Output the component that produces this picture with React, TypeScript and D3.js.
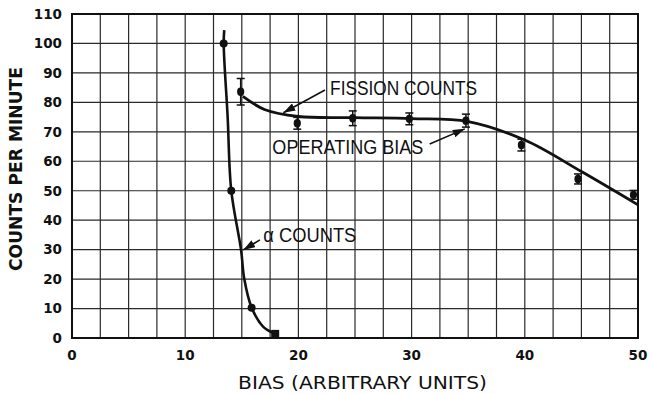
import React from "react";
import * as d3 from "d3";

// Fission chamber counting-rate curve versus bias
const W = 651;
const H = 394;

const xTicks = [0, 10, 20, 30, 40, 50];
const yTicks = [0, 10, 20, 30, 40, 50, 60, 70, 80, 90, 100, 110];

// Measured fission counts with error bars
const fissionBias = [14.9, 19.9, 24.8, 29.8, 34.8, 39.7, 44.7, 49.6];
const fissionCounts = [83.6, 72.9, 74.6, 74.4, 73.8, 65.5, 54.0, 48.6];
const fissionErr = [4.5, 2.0, 2.5, 2.0, 2.2, 2.0, 1.7, 1.5];

// Smooth fitted fission curve
const fissionCurveBias = [15.1, 17, 20, 25, 30, 35, 40, 45, 50];
const fissionCurveCounts = [82, 77.6, 75.2, 74.8, 74.5, 73.5, 67.2, 56.5, 45.2];

// Measured alpha counts
const alphaBias = [13.4, 14.07, 15.87, 17.95];
const alphaCounts = [100, 50, 10.3, 1.4];

// Smooth alpha curve
const alphaCurveBias = [13.45, 13.4, 13.75, 14.07, 14.93, 15.22, 15.87, 16.9, 17.95];
const alphaCurveCounts = [104.5, 100, 75, 50, 30, 20, 10.3, 3.8, 1.4];

// Callout labels: text anchor, arrow start, arrow tip (data units)
const labels = ["FISSION COUNTS", "OPERATING BIAS", "α COUNTS"];
const labelX = [22.8, 17.7, 16.9];
const labelY = [82.5, 62.5, 32.7];
const labelLen = [147, 151, 93];
const arrowFromX = [22.35, 31.6, 16.6];
const arrowFromY = [84.2, 65.9, 33.3];
const arrowToX = [18.67, 34.7, 15.13];
const arrowToY = [76.5, 71.0, 29.9];

export default function App() {
  const x = d3.scaleLinear().domain([0, 50]).range([72, 638]);
  const y = d3.scaleLinear().domain([0, 110]).range([338, 14]);

  const vGrid = d3.range(0, 50.01, 2.5);
  const hGrid = yTicks;

  const line = d3
    .line<[number, number]>()
    .x((d) => x(d[0]))
    .y((d) => y(d[1]))
    .curve(d3.curveCatmullRom.alpha(0.5));

  const fissionPath = line(
    fissionCurveBias.map((b, i) => [b, fissionCurveCounts[i]] as [number, number])
  );
  const alphaPath = line(
    alphaCurveBias.map((b, i) => [b, alphaCurveCounts[i]] as [number, number])
  );

  const ink = "#111";

  return (
    <svg
      width={W}
      height={H}
      style={{ position: "absolute", left: 0, top: 0, background: "#fff" }}
    >
      <defs>
        <marker
          id="arrowhead"
          viewBox="0 0 12 8"
          refX="12"
          refY="4"
          markerWidth="12"
          markerHeight="8"
          markerUnits="userSpaceOnUse"
          orient="auto"
        >
          <path d="M0,0 L12,4 L0,8 Z" fill={ink} />
        </marker>
      </defs>

      {/* grid */}
      <g stroke="#2a2a2a" strokeWidth={1.2}>
        {vGrid.map((v) => (
          <line key={"v" + v} x1={x(v)} x2={x(v)} y1={y(0)} y2={y(110)} />
        ))}
        {hGrid.map((v) => (
          <line key={"h" + v} x1={x(0)} x2={x(50)} y1={y(v)} y2={y(v)} />
        ))}
      </g>
      <rect
        x={x(0)}
        y={y(110)}
        width={x(50) - x(0)}
        height={y(0) - y(110)}
        fill="none"
        stroke={ink}
        strokeWidth={2}
      />

      {/* tick labels */}
      <g
        fontFamily="'DejaVu Sans', sans-serif"
        fontWeight="bold"
        fontSize={13.5}
        fill={ink}
      >
        {yTicks.map((t) => (
          <text key={"yt" + t} x={62} y={y(t)} dy="0.36em" textAnchor="end">
            {t}
          </text>
        ))}
        {xTicks.map((t) => (
          <text key={"xt" + t} x={x(t)} y={360} textAnchor="middle">
            {t}
          </text>
        ))}
      </g>

      {/* axis titles */}
      <text
        x={238}
        y={389}
        fontFamily="'DejaVu Sans', sans-serif"
        fontSize={18}
        textLength={249}
        lengthAdjust="spacingAndGlyphs"
        fill={ink}
      >
        BIAS (ARBITRARY UNITS)
      </text>
      <text
        transform={`translate(22, ${y(0) - 67}) rotate(-90)`}
        fontFamily="'DejaVu Sans', sans-serif"
        fontWeight="bold"
        fontSize={18}
        textLength={204}
        lengthAdjust="spacingAndGlyphs"
        fill={ink}
      >
        COUNTS PER MINUTE
      </text>

      {/* curves */}
      <path d={alphaPath ?? ""} fill="none" stroke={ink} strokeWidth={2.6} />
      <path d={fissionPath ?? ""} fill="none" stroke={ink} strokeWidth={2.8} />

      {/* fission points with error bars */}
      <g stroke={ink} fill={ink}>
        {fissionBias.map((b, i) => {
          const cx = x(b);
          const top = y(fissionCounts[i] + fissionErr[i]);
          const bot = y(fissionCounts[i] - fissionErr[i]);
          return (
            <g key={"f" + i}>
              <line x1={cx} x2={cx} y1={top} y2={bot} strokeWidth={1.5} />
              <line x1={cx - 4} x2={cx + 4} y1={top} y2={top} strokeWidth={1.5} />
              <line x1={cx - 4} x2={cx + 4} y1={bot} y2={bot} strokeWidth={1.5} />
              <ellipse cx={cx} cy={y(fissionCounts[i])} rx={3.6} ry={4.2} stroke="none" />
            </g>
          );
        })}
      </g>

      {/* alpha points */}
      <g fill={ink}>
        {alphaBias.map((b, i) =>
          i === alphaBias.length - 1 ? (
            <rect
              key={"a" + i}
              x={x(b) - 4}
              y={y(alphaCounts[i]) - 4}
              width={8}
              height={8}
            />
          ) : (
            <circle key={"a" + i} cx={x(b)} cy={y(alphaCounts[i])} r={4} />
          )
        )}
      </g>

      {/* callouts */}
      <g fontFamily="'Liberation Sans', Arial, sans-serif" fontSize={20} fill={ink}>
        {labels.map((l, i) => (
          <text
            key={l}
            x={x(labelX[i])}
            y={y(labelY[i])}
            textLength={labelLen[i]}
            lengthAdjust="spacingAndGlyphs"
          >
            {l}
          </text>
        ))}
      </g>
      <g stroke={ink} strokeWidth={1.6}>
        {labels.map((l, i) => (
          <line
            key={"ar" + l}
            x1={x(arrowFromX[i])}
            y1={y(arrowFromY[i])}
            x2={x(arrowToX[i])}
            y2={y(arrowToY[i])}
            markerEnd="url(#arrowhead)"
          />
        ))}
      </g>
    </svg>
  );
}
